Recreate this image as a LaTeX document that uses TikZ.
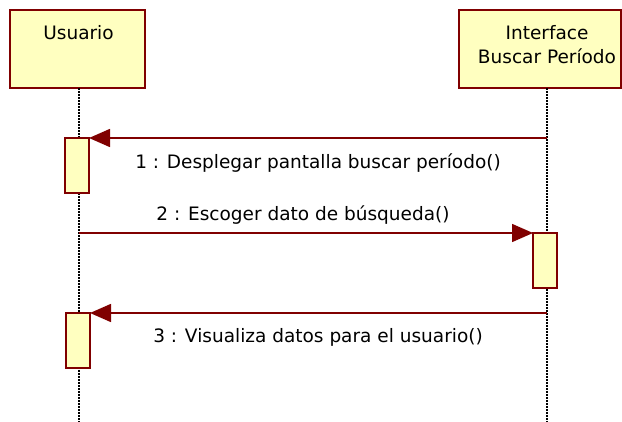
\documentclass[tikz,border=0pt]{standalone}
\usepackage{fontspec}
\setmainfont{DejaVu Sans}
\usetikzlibrary{arrows.meta}
\definecolor{umlred}{RGB}{128,0,0}
\definecolor{umlfill}{RGB}{255,255,192}

\begin{document}
\begin{tikzpicture}[x=1pt,y=-1pt,
  head/.style={draw=umlred,fill=umlfill,line width=1.6pt,inner sep=0pt},
  act/.style={draw=umlred,fill=umlfill,line width=1.6pt,inner sep=0pt,
    minimum width=24pt,minimum height=55pt},
  lifeline/.style={line width=1.5pt,dash pattern=on 2pt off 1pt},
  msg/.style={draw=umlred,line width=1.6pt,-{Triangle[length=21pt,width=18pt]}},
  lbl/.style={font=\fontsize{18.5}{24}\selectfont,inner sep=0pt,align=center}]
  \useasboundingbox (0,0) rectangle (622,422);
  % heads
  \node[head,minimum width=135pt,minimum height=78pt] (usr) at (77.5,49) {};
  \node[head,minimum width=162pt,minimum height=78pt] (ifz) at (540,49) {};
  \node[lbl,anchor=north] (usrtxt) at (78.5,25) {Usuario};
  \node[lbl,anchor=north] (ifztxt) at (547,25) {Interface\\Buscar Período};
  % lifelines
  \coordinate (u0) at (79,88); \coordinate (u1) at (79,422);
  \coordinate (i0) at (547,88); \coordinate (i1) at (547,422);
  \draw[lifeline] (u0)--(u1);
  \draw[lifeline] (i0)--(i1);
  % activations
  \node[act,outer sep=0pt] (act1) at (77,165.5) {};
  \node[act,outer sep=0pt] (act2) at (545,260.5) {};
  \node[act,outer sep=0pt] (act3) at (78,340.5) {};
  % messages
  \coordinate (m1) at (547,138); \coordinate (m2) at (79,233);
  \coordinate (m3) at (547,313);
  \draw[msg] (m1)--(m1 -| act1.east);
  \draw[msg] (m2)--(m2 -| act2.west);
  \draw[msg] (m3)--(m3 -| act3.east);
  \node[lbl] (l1) at (318,163) {1 : Desplegar pantalla buscar período()};
  \node[lbl] (l2) at (303,215) {2 : Escoger dato de búsqueda()};
  \node[lbl] (l3) at (318,337) {3 : Visualiza datos para el usuario()};
\end{tikzpicture}
\end{document}
